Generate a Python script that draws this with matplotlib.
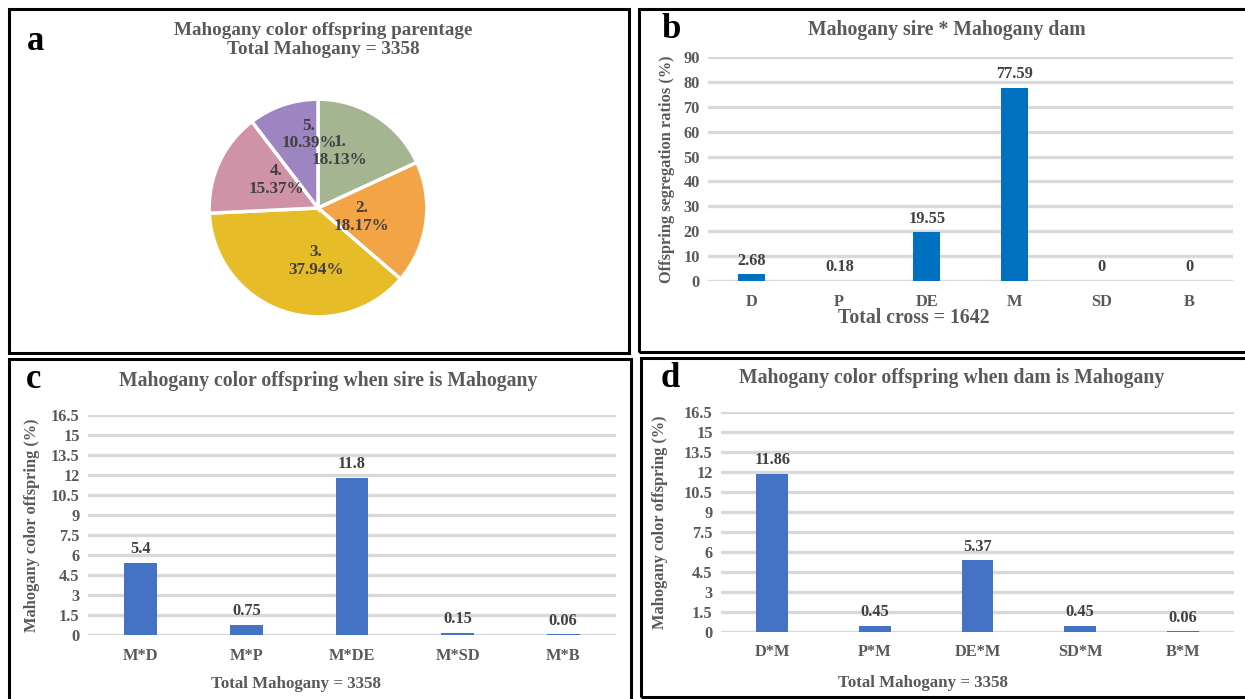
import matplotlib.pyplot as plt
from matplotlib.patches import Rectangle
import numpy as np

plt.rcParams['font.family'] = ['Liberation Serif', 'DejaVu Serif']
plt.rcParams['font.weight'] = 'bold'

# (a) parentage shares
pie_labels = ['1.', '2.', '3.', '4.', '5.']
pie_shares = [18.13, 18.17, 37.94, 15.37, 10.39]
pie_colors = ['#A5B592', '#F3A447', '#E6BC29', '#D092A7', '#9C85C0']

# (b) Mahogany sire * Mahogany dam
b_cats = ['D', 'P', 'DE', 'M', 'SD', 'B']
b_vals = [2.68, 0.18, 19.55, 77.59, 0, 0]

# (c) sire is Mahogany
c_cats = ['M*D', 'M*P', 'M*DE', 'M*SD', 'M*B']
c_vals = [5.4, 0.75, 11.8, 0.15, 0.06]

# (d) dam is Mahogany
d_cats = ['D*M', 'P*M', 'DE*M', 'SD*M', 'B*M']
d_vals = [11.86, 0.45, 5.37, 0.45, 0.06]

GREY = '#595959'
W, H = 1245, 699
fig = plt.figure(figsize=(W / 100, H / 100), dpi=100)


def px_axes(x0, y0, x1, y1):
    # pixel box (top-left origin) -> figure axes
    return fig.add_axes([x0 / W, 1 - y1 / H, (x1 - x0) / W, (y1 - y0) / H])


def frame(x0, y0, x1, y1):
    fig.patches.append(Rectangle((x0 / W, 1 - y1 / H), (x1 - x0) / W, (y1 - y0) / H,
                                 transform=fig.transFigure, fill=False,
                                 edgecolor='black', linewidth=2.2, zorder=10))


frame(9, 9, 629, 353)
frame(639, 9, 1260, 352)
frame(9, 359, 631, 720)
frame(641, 358, 1260, 697)

# ---- panel a: pie ----
ax = px_axes(207, 97, 429, 319)
wedges, texts = ax.pie(pie_shares, colors=pie_colors, startangle=90, counterclock=False,
                       wedgeprops=dict(edgecolor='white', linewidth=2.5))
ax.set_xlim(-1.02, 1.02)
ax.set_ylim(-1.02, 1.02)
ax.set_aspect('equal')
# label placement inside each slice: (radius, angle) in pie units
label_pos = [(0.56, 69), (0.41, -12), (0.49, -92), (0.46, 146), (0.68, 97)]
for lab, val, (r, ang) in zip(pie_labels, pie_shares, label_pos):
    a = np.deg2rad(ang)
    ax.text(r * np.cos(a), r * np.sin(a), f'{lab}\n{val:.2f}%', ha='center', va='center',
            fontsize=12.3, color='#404040', linespacing=1.15)
fig.text(323 / W, 1 - 40 / H, 'Mahogany color offspring parentage\nTotal Mahogany = 3358',
         ha='center', va='center', fontsize=13.8, color=GREY, linespacing=1.1)
fig.text(27 / W, 1 - 42 / H, 'a', ha='left', va='center', fontsize=25, color='black')


def bar_panel(box, cats, vals, color, ymax, ystep, title, title_xy, ylabel, ylabel_x,
              xlabel, xlabel_y, letter_xy, letter):
    ax = px_axes(*box)
    x = np.arange(len(cats))
    bars = ax.bar(x, vals, width=0.31, color=color, zorder=2)
    ax.bar_label(bars, fmt='%g', padding=4, fontsize=11.8, color='#404040')
    ax.set_xlim(-0.5, len(cats) - 0.5)
    ax.set_ylim(0, ymax)
    ax.set_yticks(np.arange(0, ymax + 0.01, ystep))
    ax.set_yticklabels([f'{t:g}' for t in np.arange(0, ymax + 0.01, ystep)])
    ax.set_xticks(x)
    ax.set_xticklabels(cats)
    ax.tick_params(length=0, labelsize=11.8, labelcolor=GREY)
    ax.tick_params(axis='x', pad=9)
    ax.tick_params(axis='y', pad=6)
    ax.grid(axis='y', color='#D9D9D9', linewidth=2.4, zorder=0)
    ax.set_axisbelow(True)
    for s in ax.spines.values():
        s.set_visible(False)
    y0, y1 = box[1], box[3]
    fig.text(ylabel_x / W, 1 - (y0 + y1) / 2 / H, ylabel, rotation=90, ha='center',
             va='center', fontsize=11.8, color=GREY)
    fig.text(title_xy[0] / W, 1 - title_xy[1] / H, title, ha='center', va='center',
             fontsize=14.2, color=GREY)
    fig.text(xlabel_y[0] / W, 1 - xlabel_y[1] / H, xlabel, ha='center', va='center',
             fontsize=xlabel_y[2], color=GREY)
    fig.text(letter_xy[0] / W, 1 - letter_xy[1] / H, letter, ha='left', va='center',
             fontsize=25, color='black')


bar_panel((708, 57, 1233, 281), b_cats, b_vals, '#0070C0', 90, 10,
          'Mahogany sire * Mahogany dam', (947, 30),
          'Offspring segregation ratios (%)', 667,
          'Total cross = 1642', (914, 318, 14.2), (662, 30), 'b')

bar_panel((88, 415, 616, 635), c_cats, c_vals, '#4472C4', 16.5, 1.5,
          'Mahogany color offspring when sire is Mahogany', (328, 381),
          'Mahogany color offspring (%)', 32,
          'Total Mahogany = 3358', (296, 684, 12.2), (26, 380), 'c')

bar_panel((721, 412, 1234, 632), d_cats, d_vals, '#4472C4', 16.5, 1.5,
          'Mahogany color offspring when dam is Mahogany', (952, 378),
          'Mahogany color offspring (%)', 660,
          'Total Mahogany = 3358', (923, 683, 12.2), (661, 378), 'd')

fig.savefig('out.png', dpi=100, facecolor='white')
